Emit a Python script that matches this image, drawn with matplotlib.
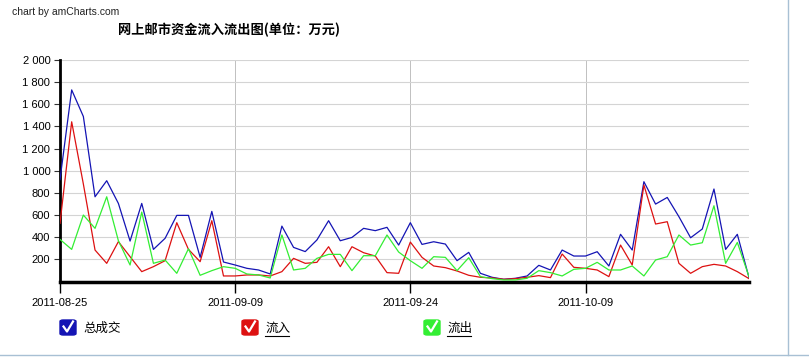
import matplotlib
matplotlib.use('Agg')
import matplotlib.pyplot as plt
import matplotlib.dates as mdates
from matplotlib.patches import FancyBboxPatch
from matplotlib.lines import Line2D
from matplotlib.ticker import FuncFormatter
import numpy as np
import pandas as pd

plt.rcParams['font.family'] = ['Liberation Sans', 'Noto Sans CJK SC', 'DejaVu Sans']

dates = pd.date_range('2011-08-25', periods=60, freq='D')

total = [920, 1730, 1490, 765, 910, 705, 365, 705, 290, 390,
         597, 597, 218, 633, 176, 149, 119, 104, 68, 500,
         308, 270, 375, 549, 368, 398, 480, 459, 489, 329,
         531, 335, 359, 338, 188, 263, 74, 38, 20, 29,
         50, 146, 104, 284, 230, 230, 269, 140, 426, 284,
         901, 699, 759, 585, 395, 474, 835, 290, 426, 35]
inflow = [525, 1442, 880, 284, 164, 360, 224, 89, 134, 188,
          531, 290, 179, 549, 50, 50, 59, 59, 50, 89,
          209, 164, 173, 314, 134, 314, 260, 230, 80, 74,
          356, 218, 140, 125, 95, 56, 38, 32, 20, 26,
          38, 53, 35, 248, 128, 119, 104, 44, 329, 149,
          871, 519, 540, 164, 74, 134, 155, 140, 89, 26]
outflow = [380, 290, 600, 480, 765, 368, 149, 627, 164, 194,
           74, 296, 56, 98, 134, 119, 68, 59, 32, 420,
           104, 119, 209, 245, 245, 98, 233, 233, 420, 266,
           188, 119, 224, 218, 98, 215, 44, 26, 14, 14,
           29, 98, 80, 50, 110, 119, 173, 104, 104, 140,
           50, 194, 224, 420, 329, 350, 684, 164, 353, 44]

series_names = ['总成交', '流入', '流出']
series_colors = ['#1414b4', '#dd1111', '#33ee33']
tick_dates = ['2011-08-25', '2011-09-09', '2011-09-24', '2011-10-09']
y_ticks = list(range(200, 2001, 200))

W, H = 809, 361
fig = plt.figure(figsize=(W / 100, H / 100), dpi=100)
fig.patch.set_facecolor('white')

ax = fig.add_axes([60 / W, 1 - 281.5 / H, 689 / W, 221.5 / H])
for vals, col in zip([total, inflow, outflow], series_colors):
    ax.plot(dates, vals, color=col, lw=0.9, zorder=3)

ax.set_xlim(dates[0], dates[-1])
ax.set_ylim(0, 2000)
ax.set_yticks(y_ticks)
ax.yaxis.set_major_formatter(FuncFormatter(lambda v, p: f'{int(v):,}'.replace(',', ' ')))
ax.set_xticks(pd.to_datetime(tick_dates))
ax.xaxis.set_major_formatter(mdates.DateFormatter('%Y-%m-%d'))
ax.tick_params(axis='y', length=4, width=0.8, labelsize=8, pad=3, color='#333333')
ax.tick_params(axis='x', length=8, width=1, labelsize=8, pad=4)

ax.grid(axis='y', color='#d4d4d4', lw=0.8)
ax.grid(axis='x', color='#c0c0c0', lw=0.7)
ax.set_axisbelow(True)
for s in ['top', 'right']:
    ax.spines[s].set_visible(False)
ax.spines['left'].set_linewidth(2)
ax.spines['bottom'].set_linewidth(2.5)

fig.text(12 / W, 1 - 12 / H, 'chart by amCharts.com', fontsize=7.5,
         va='center', ha='left', color='#222222')
fig.text(118 / W, 1 - 30 / H, '网上邮市资金流入流出图(单位：万元)', fontsize=9.5,
         fontweight='bold', va='center', ha='left',
         family=['Noto Sans CJK SC', 'DejaVu Sans'])

# legend with checkbox markers
box_x = [60, 242, 424]
for bx, name, col, under in zip(box_x, series_names, series_colors, [False, True, True]):
    fig.patches.append(FancyBboxPatch((bx / W, 1 - 335 / H), 16 / W, 15 / H,
                                      boxstyle='round,pad=0,rounding_size=0.004',
                                      transform=fig.transFigure, fc=col, ec=col))
    fig.lines.append(Line2D([(bx + 3.5) / W, (bx + 7) / W, (bx + 13) / W],
                            [1 - 326.5 / H, 1 - 331.5 / H, 1 - 321.5 / H],
                            transform=fig.transFigure, color='white', lw=1.6))
    fig.text((bx + 23) / W, 1 - 328 / H, name, fontsize=9, va='center', ha='left',
             family=['Noto Sans CJK SC', 'DejaVu Sans'])
    if under:
        fig.lines.append(Line2D([(bx + 23) / W, (bx + 47) / W], [1 - 336 / H, 1 - 336 / H],
                                transform=fig.transFigure, color='black', lw=0.8))

# page border remnants
fig.lines.append(Line2D([787.5 / W, 787.5 / W], [1 - 355 / H, 1], transform=fig.transFigure,
                        color='#a8c0d4', lw=1))
fig.lines.append(Line2D([0, 1], [1 - 355 / H, 1 - 355 / H], transform=fig.transFigure,
                        color='#a8c0d4', lw=1))

fig.savefig('out.png', dpi=100)
